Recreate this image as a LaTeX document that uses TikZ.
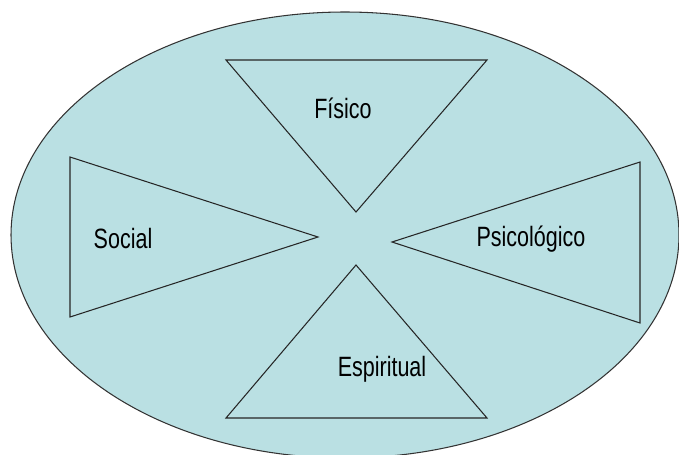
\documentclass[tikz,border=0pt]{standalone}
\usepackage{fontspec}
\newfontfamily\labelfont[FakeStretch=0.77]{Liberation Sans}
\definecolor{ovalfill}{RGB}{186,224,227}
\tikzset{
    tri/.style={line width=0.6pt, draw=black!85},
    lbl/.style={font=\labelfont\fontsize{15.9pt}{18pt}\selectfont, anchor=base, inner sep=0pt}
}

\begin{document}
\begin{tikzpicture}[x=0.02cm,y=-0.02cm]
    \useasboundingbox (0,0) rectangle (679,454);
    \clip (0,0) rectangle (679,454);
    \draw [fill=ovalfill, draw=black!80, line width=0.6pt] (345,235) ellipse [x radius=334, y radius=223];
    \draw [tri] (226,60)--(487,60)--(356,212)--cycle;
    \draw [tri] (70,157)--(70,317)--(318,237)--cycle;
    \draw [tri] (640,162)--(640,323)--(392,242)--cycle;
    \draw [tri] (356,265)--(487,418)--(226,418)--cycle;
    \node [lbl] (fisico) at (343,118) {Físico};
    \node [lbl] (social) at (123,248) {Social};
    \node [lbl] (psico) at (531,246) {Psicológico};
    \node [lbl] (espiritual) at (382,376) {Espiritual};

\end{tikzpicture}
\end{document}
